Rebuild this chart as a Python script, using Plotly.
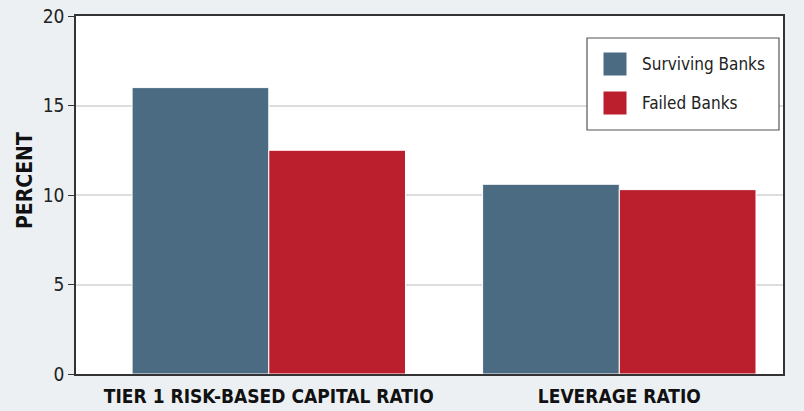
import plotly.graph_objects as go

categories = ["TIER 1 RISK-BASED CAPITAL RATIO", "LEVERAGE RATIO"]
series_names = ["Surviving Banks", "Failed Banks"]
surviving = [16.0, 10.6]
failed = [12.5, 10.3]
colors = ["#4b6b82", "#bb1f2e"]
y_ticks = [0, 5, 10, 15, 20]
y_title = "PERCENT"

FONT = "DejaVu Sans Condensed, Liberation Sans Narrow, sans-serif"

fig = go.Figure()
for name, vals, col in zip(series_names, [surviving, failed], colors):
    fig.add_trace(go.Bar(
        x=categories, y=vals, name=name,
        marker=dict(color=col, line=dict(color="white", width=1)),
        showlegend=False,
    ))

# custom legend box
PW, PH = 707, 358
shapes = [dict(type="rect", xref="paper", yref="paper",
               x0=(587 - 76) / PW, x1=(779 - 76) / PW,
               y0=(374 - 130) / PH, y1=(374 - 38) / PH,
               line=dict(color="#555555", width=1.2), fillcolor="white", layer="above")]
annotations = []
for i, (name, col) in enumerate(zip(series_names, colors)):
    yc = [64, 103][i]
    shapes.append(dict(type="rect", xref="paper", yref="paper",
                       x0=(603 - 76) / PW, x1=(627 - 76) / PW,
                       y0=(374 - (yc + 12)) / PH, y1=(374 - (yc - 12)) / PH,
                       line=dict(color="white", width=1), fillcolor=col, layer="above"))
    annotations.append(dict(xref="paper", yref="paper", x=(640 - 76) / PW,
                            y=(374 - yc) / PH, text=name, showarrow=False,
                            xanchor="left", yanchor="middle",
                            font=dict(family=FONT, size=17, color="#222222")))

annotations.append(dict(xref="paper", yref="paper", x=(25 - 76) / PW, y=(374 - 180) / PH,
                        text="<b>" + y_title + "</b>", textangle=-90, showarrow=False,
                        xanchor="center", yanchor="middle",
                        font=dict(family=FONT, size=21, color="#111111")))

fig.update_layout(
    width=804, height=411,
    margin=dict(l=76, r=21, t=16, b=37),
    paper_bgcolor="#ecf0f3", plot_bgcolor="white",
    barmode="group", bargap=0.22, bargroupgap=0,
    font=dict(family=FONT, size=17, color="#222222"),
    shapes=shapes, annotations=annotations,
)
fig.update_xaxes(range=[-0.55, 1.467], showline=True, linecolor="#333333",
                 linewidth=1.5, mirror=True, ticks="", automargin=False,
                 tickfont=dict(family=FONT, size=19, color="#111111"),
                 tickprefix="<b>", ticksuffix="</b>", ticklabelstandoff=4,
                 showgrid=False)
fig.update_yaxes(range=[0, 20], tickvals=y_ticks, showline=True, linecolor="#333333",
                 linewidth=1.5, mirror=True, ticks="outside", ticklen=6,
                 tickcolor="#333333", gridcolor="#dddddd", gridwidth=1.5,
                 automargin=False,
                 tickfont=dict(family=FONT, size=19, color="#222222"),
                 zeroline=False)

fig.write_html("out.html")
